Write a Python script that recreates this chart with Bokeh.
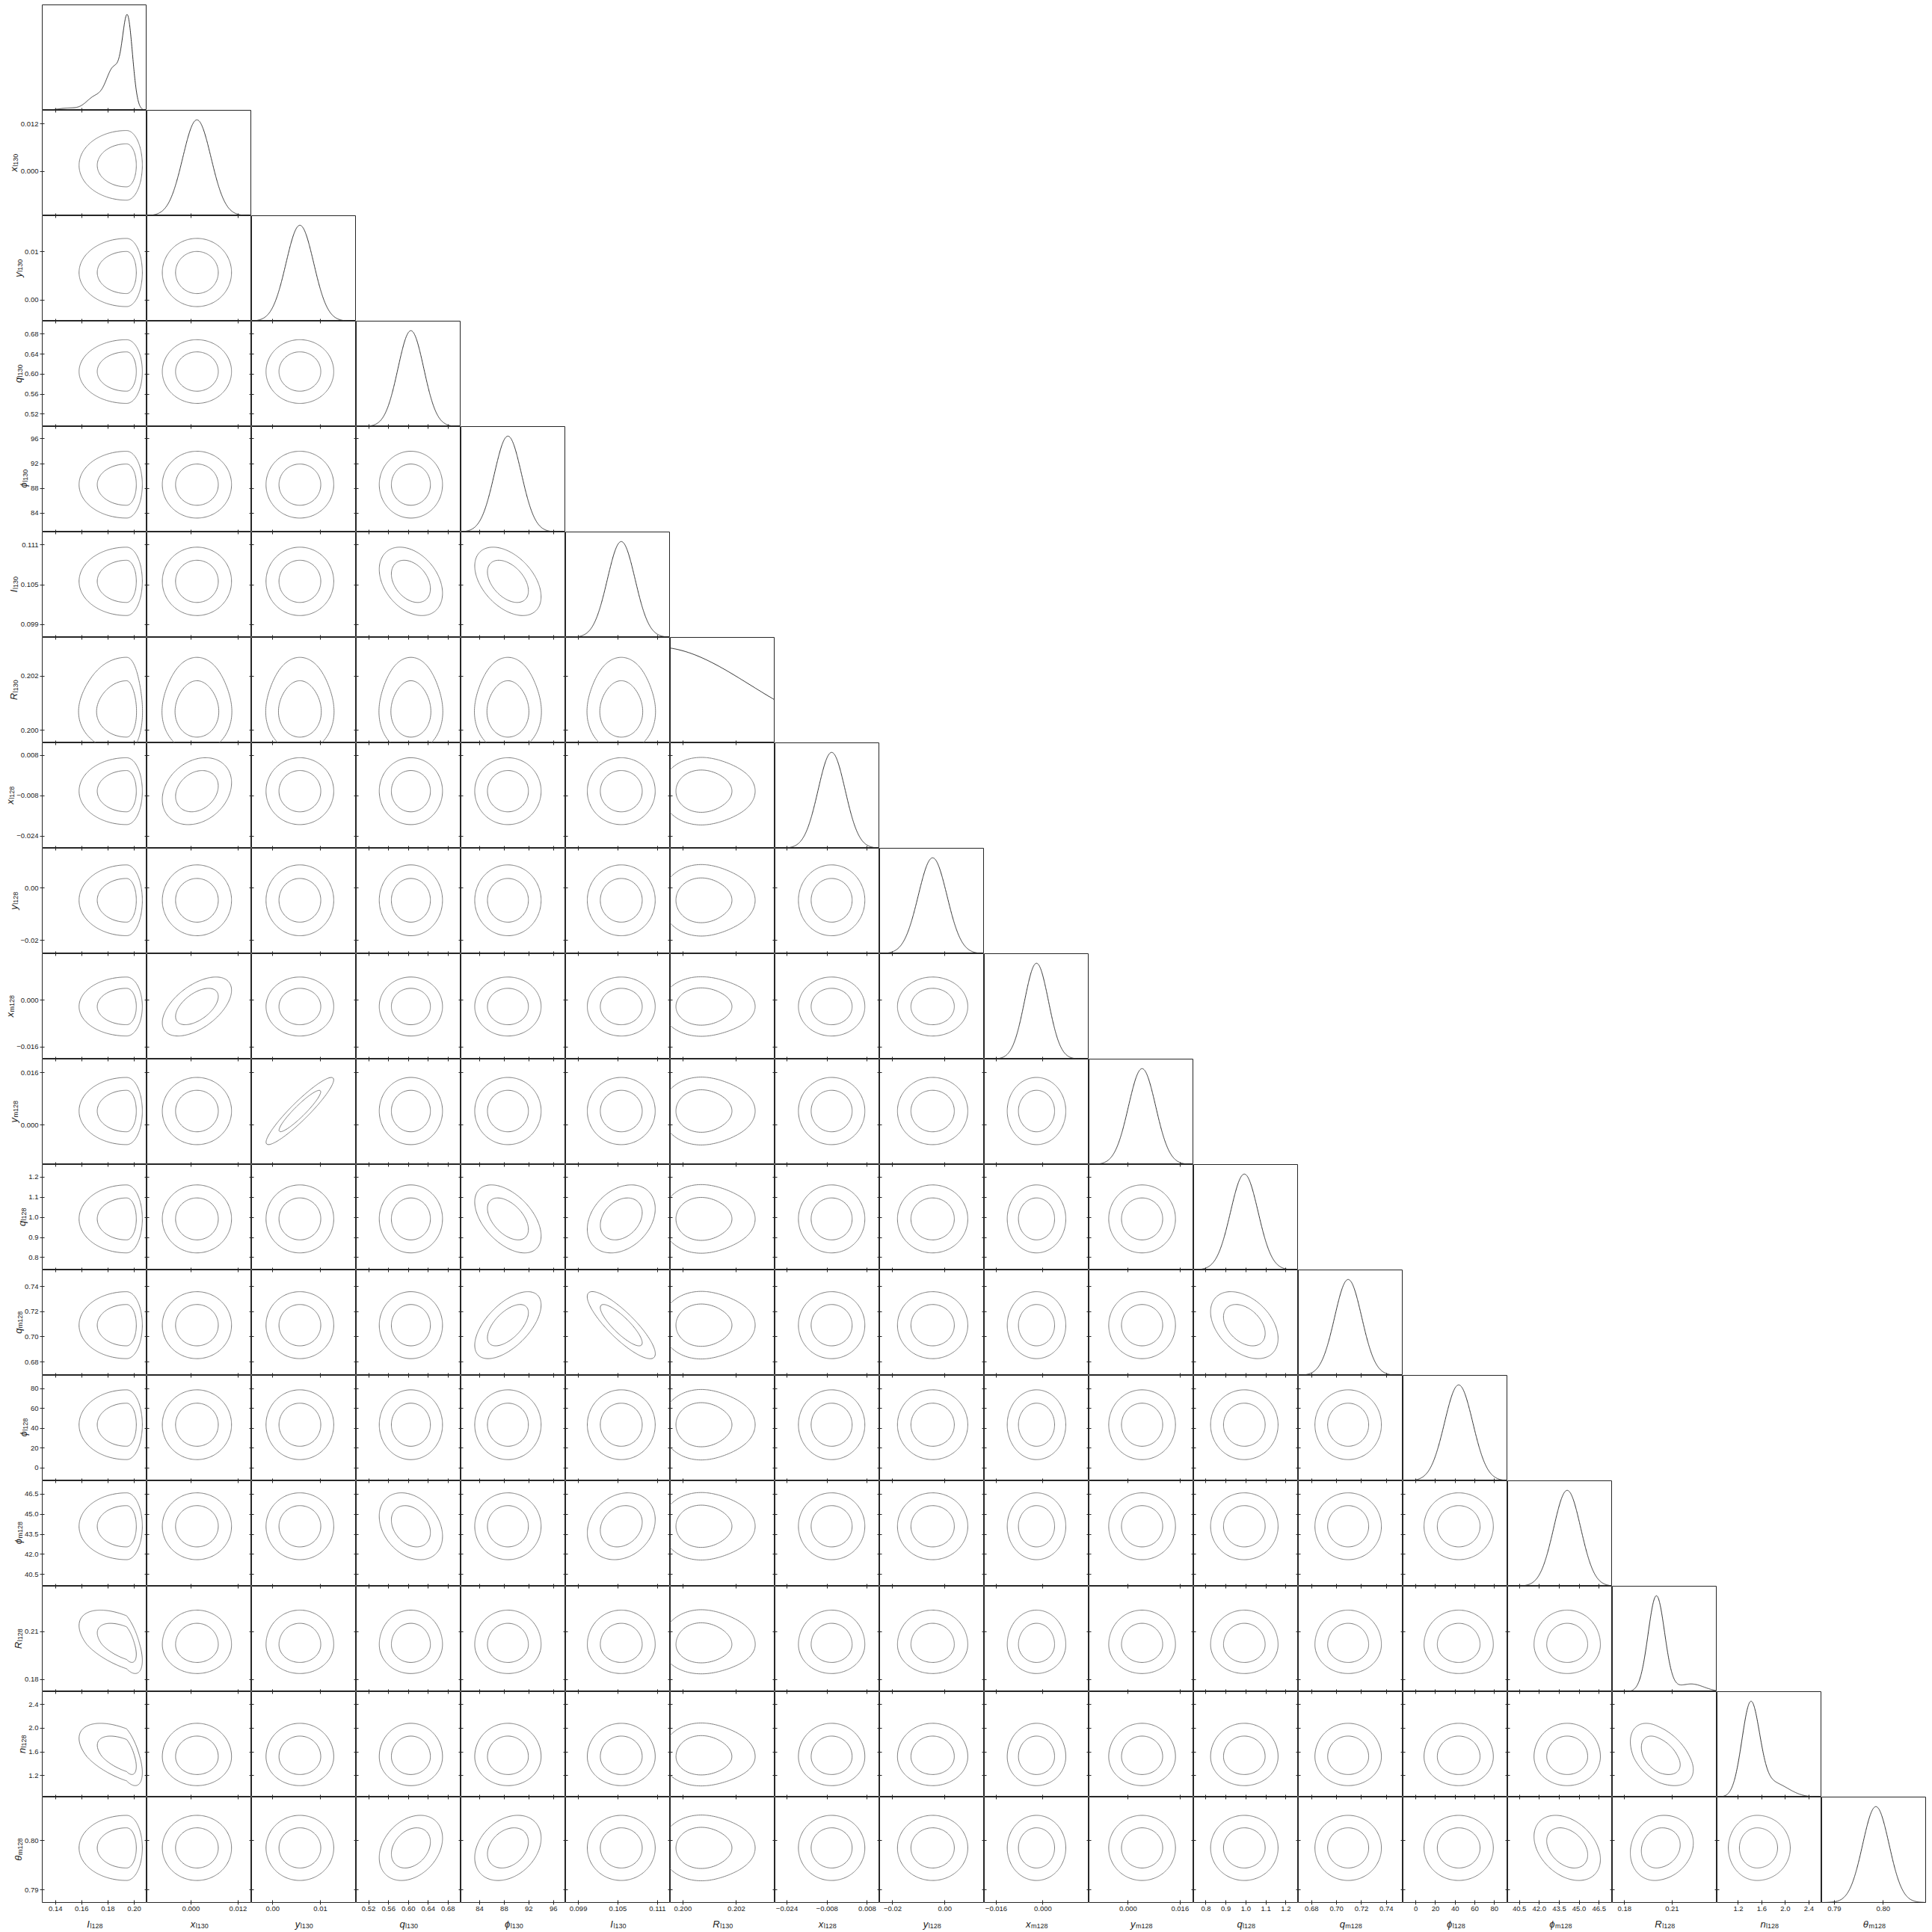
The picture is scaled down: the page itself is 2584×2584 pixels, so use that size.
import numpy as np
from bokeh.plotting import figure
from bokeh.layouts import row, column
from bokeh.models import FixedTicker, Range1d, LinearAxis, Spacer
from bokeh.core.properties import value
from bokeh.embed import file_html
from bokeh.resources import INLINE

# ---------------- data ----------------
symbols = ["I", "x", "y", "q", "ϕ", "I", "R", "x", "y", "x", "y", "q", "q", "ϕ", "ϕ", "R", "n", "θ"]
subscripts = ["l128", "l130", "l130", "l130", "l130", "l130", "l130", "l128", "l128",
              "m128", "m128", "l128", "m128", "l128", "m128", "l128", "l128", "m128"]

range_lo = [0.1299, -0.01124, -0.00443, 0.4950, 80.97, 0.09707, 0.19953, -0.02877, -0.02500,
            -0.02010, -0.01207, 0.7383, 0.66928, -13.06, 39.62, 0.17236, 0.8375, 0.78742]
range_hi = [0.2097, 0.01543, 0.01753, 0.7058, 97.97, 0.11293, 0.20344, 0.01292, 0.01511,
            0.01580, 0.02020, 1.2625, 0.75335, 93.5, 47.50, 0.2383, 2.6185, 0.80883]

tick_values = [
    [0.14, 0.16, 0.18, 0.20], [0.0, 0.012], [0.0, 0.01], [0.52, 0.56, 0.60, 0.64, 0.68],
    [84, 88, 92, 96], [0.099, 0.105, 0.111], [0.200, 0.202], [-0.024, -0.008, 0.008],
    [-0.02, 0.0], [-0.016, 0.0], [0.0, 0.016], [0.8, 0.9, 1.0, 1.1, 1.2],
    [0.68, 0.70, 0.72, 0.74], [0, 20, 40, 60, 80], [40.5, 42.0, 43.5, 45.0, 46.5],
    [0.18, 0.21], [1.2, 1.6, 2.0, 2.4], [0.79, 0.80]]
tick_labels = [
    ["0.14", "0.16", "0.18", "0.20"], ["0.000", "0.012"], ["0.00", "0.01"],
    ["0.52", "0.56", "0.60", "0.64", "0.68"], ["84", "88", "92", "96"],
    ["0.099", "0.105", "0.111"], ["0.200", "0.202"], ["\u22120.024", "\u22120.008", "0.008"],
    ["\u22120.02", "0.00"], ["\u22120.016", "0.000"], ["0.000", "0.016"],
    ["0.8", "0.9", "1.0", "1.1", "1.2"], ["0.68", "0.70", "0.72", "0.74"],
    ["0", "20", "40", "60", "80"], ["40.5", "42.0", "43.5", "45.0", "46.5"],
    ["0.18", "0.21"], ["1.2", "1.6", "2.0", "2.4"], ["0.79", "0.80"]]

# posterior shape of each parameter in the 2-d panels:
# (peak height, centre, width below centre, width above centre) per component
components = [
    [(1.0, 0.1942, 0.0148, 0.0049)],
    [(1.0, 0.0015, 0.0036, 0.0036)],
    [(1.0, 0.0057, 0.0029, 0.0029)],
    [(1.0, 0.605, 0.026, 0.026)],
    [(1.0, 88.6, 2.2, 2.2)],
    [(1.0, 0.1055, 0.0021, 0.0021)],
    [(1.0, 0.2006, 0.00058, 0.00058), (0.30, 0.2014, 0.0007, 0.0007)],
    [(1.0, -0.0062, 0.0054, 0.0054)],
    [(1.0, -0.0047, 0.0055, 0.0055)],
    [(1.0, -0.0022, 0.0041, 0.0041)],
    [(1.0, 0.0043, 0.0042, 0.0042)],
    [(1.0, 0.992, 0.069, 0.069)],
    [(1.0, 0.7093, 0.0109, 0.0109)],
    [(1.0, 43.6, 14.4, 14.4)],
    [(1.0, 44.1, 1.02, 1.02)],
    [(1.0, 0.2018, 0.0074, 0.0088)],
    [(1.0, 1.52, 0.20, 0.23)],
    [(1.0, 0.7985, 0.0027, 0.0027)],
]
# 1-d marginal curves on the diagonal where they differ from the above
diag_components = {
    0: [(0.80, 0.1950, 0.0038, 0.0038), (0.38, 0.1845, 0.0058, 0.0058),
        (0.12, 0.170, 0.0065, 0.0065), (0.02, 0.150, 0.008, 0.008)],
    6: [(1.0, 0.1990, 0.0035, 0.0035)],
    15: [(1.0, 0.2001, 0.0052, 0.0052), (0.08, 0.222, 0.008, 0.008)],
    16: [(1.0, 1.41, 0.15, 0.15), (0.15, 1.80, 0.25, 0.25)],
}

# correlation between (row parameter, column parameter)
correlations = {
    (9, 1): 0.55, (10, 2): 0.93, (7, 1): 0.25, (5, 3): -0.35, (5, 4): -0.45,
    (11, 4): -0.5, (11, 5): 0.3, (12, 4): 0.6, (12, 5): -0.85, (12, 11): -0.4,
    (14, 3): -0.3, (14, 5): 0.2, (15, 0): -0.55, (16, 0): -0.55, (16, 15): -0.45,
    (17, 3): 0.3, (17, 4): 0.3, (17, 14): -0.35, (17, 15): 0.15,
}
contour_probs = [0.95, 0.68]

# ---------------- styling ----------------
FONT = "Liberation Sans"
TICK_PX = 9.5
N = len(symbols)
FW, FH = 140, 141
LEFT_TOTAL, TOP_B, TICK_B, NAME_H, TICK_LEN = 56, 6, 17, 23, 3
STRIP_W = LEFT_TOTAL - TICK_LEN
FRAME = "#262626"
CONTOUR = "#7c7c7c"
CURVE = "#333333"
TEXT = "#222222"

CHAR_W = {".": 0.278, "\u2212": 0.584, "I": 0.30, "x": 0.50, "y": 0.50, "q": 0.556,
          "ϕ": 0.66, "R": 0.72, "n": 0.556, "θ": 0.56, "l": 0.222, "m": 0.833}


def text_w(s, px):
    return px * sum(CHAR_W.get(ch, 0.556) for ch in s)


def mix(comps):
    a = np.array([c[0] for c in comps], float)
    mu = np.array([c[1] for c in comps], float)
    sl = np.array([c[2] for c in comps], float)
    sr = np.array([c[3] for c in comps], float)
    w = a * (sl + sr) / 2
    return w / w.sum(), mu, sl, sr


def extent(comps, lo, hi):
    w, mu, sl, sr = mix(comps)
    return min(lo, (mu - 5 * sl).min()), max(hi, (mu + 5 * sr).max())


def zscore(x, m, sl, sr):
    return np.where(x < m, (x - m) / sl, (x - m) / sr)


def dens1(x, comps):
    w, mu, sl, sr = mix(comps)
    out = np.zeros_like(x)
    for wk, mk, lk, rk in zip(w, mu, sl, sr):
        out += wk / (0.5 * (lk + rk)) * np.exp(-0.5 * zscore(x, mk, lk, rk) ** 2)
    return out


def dens2(X, Y, cx, cy, rho):
    wx, mx, lx, rx = mix(cx)
    wy, my, ly, ry = mix(cy)
    Z = np.zeros_like(X)
    k = 1.0 - rho * rho
    for wa, ma, la, ra in zip(wx, mx, lx, rx):
        zx = zscore(X, ma, la, ra)
        for wb, mb, lb, rb in zip(wy, my, ly, ry):
            zy = zscore(Y, mb, lb, rb)
            norm = 0.25 * (la + ra) * (lb + rb) * np.sqrt(k)
            Z += wa * wb / norm * np.exp(-0.5 / k * (zx * zx - 2 * rho * zx * zy + zy * zy))
    return Z


def levels_for(Z, probs):
    z = np.sort(Z.ravel())[::-1]
    cs = np.cumsum(z)
    cs /= cs[-1]
    return sorted(float(z[min(np.searchsorted(cs, pr), len(z) - 1)]) for pr in probs)


def style_axis(ax, idx, tick_in, tick_out, show):
    ax.ticker = FixedTicker(ticks=list(tick_values[idx]), minor_ticks=[])
    ax.major_label_overrides = {float(t): s for t, s in zip(tick_values[idx], tick_labels[idx])}
    ax.major_tick_in = tick_in
    ax.major_tick_out = tick_out
    ax.minor_tick_in = 0
    ax.minor_tick_out = 0
    ax.major_tick_line_color = FRAME
    ax.major_tick_line_width = 1
    ax.axis_line_color = None
    ax.axis_label = None
    if show:
        ax.major_label_text_font = FONT
        ax.major_label_text_font_size = f"{TICK_PX}px"
        ax.major_label_text_color = TEXT
        ax.major_label_standoff = 2
    else:
        ax.major_label_text_font_size = "0px"
        ax.major_label_text_color = None
        ax.major_label_standoff = 0


def blank(w, h, yr=None, bottom=0):
    f = figure(frame_width=w, frame_height=h, output_backend="svg", toolbar_location=None, title=None,
               x_range=Range1d(0, w), y_range=yr if yr is not None else Range1d(0, h),
               min_border=0, min_border_left=0, min_border_right=0, min_border_top=0,
               min_border_bottom=bottom)
    f.axis.visible = False
    f.grid.visible = False
    f.outline_line_color = None
    f.background_fill_color = "white"
    f.border_fill_color = "white"
    return f


def write_name(f, idx, centre, along_scale, horizontal, main_base, sub_base):
    main_w = text_w(symbols[idx], 13)
    sub_w = text_w(subscripts[idx], 9)
    join = centre + (main_w - (main_w + sub_w) / 2) * along_scale
    gap = 0.5 * along_scale
    ang = 0.0 if horizontal else np.pi / 2
    mx, my = (join, main_base) if horizontal else (main_base, join)
    sx, sy = (join + gap, sub_base) if horizontal else (sub_base, join + gap)
    f.text(x=[mx], y=[my], text=[symbols[idx]], angle=ang, text_font=value(FONT),
           text_font_size=value("13px"), text_font_style="italic", text_color=TEXT,
           text_align="right", text_baseline="alphabetic")
    f.text(x=[sx], y=[sy], text=[subscripts[idx]], angle=ang, text_font=value(FONT),
           text_font_size=value("9px"), text_color=TEXT,
           text_align="left", text_baseline="alphabetic")


layout_rows = []
for r in range(N):
    children = []
    last = r == N - 1
    if r > 0:
        # strip left of the row: tick labels of the row parameter and its name
        lf = blank(STRIP_W, FH, Range1d(range_lo[r], range_hi[r]), TICK_B if last else 0)
        lf.text(x=[STRIP_W - 2] * len(tick_values[r]), y=list(tick_values[r]), text=list(tick_labels[r]),
                text_font=value(FONT), text_font_size=value(f"{TICK_PX}px"), text_color=TEXT,
                text_align="right", text_baseline="middle")
        wmax = max(text_w(t, TICK_PX) for t in tick_labels[r])
        main_base = LEFT_TOTAL - (wmax + 14)
        per_px = (range_hi[r] - range_lo[r]) / FH
        write_name(lf, r, 0.5 * (range_lo[r] + range_hi[r]), per_px, False, main_base, main_base + 2.5)
        children.append(lf)
        left_b = TICK_LEN
    else:
        left_b = LEFT_TOTAL
    for c in range(r + 1):
        diag = r == c
        p = figure(frame_width=FW, frame_height=FH, output_backend="svg", toolbar_location=None,
                   title=None,
                   x_range=Range1d(range_lo[c], range_hi[c]),
                   y_range=Range1d(0, 1.1) if diag else Range1d(range_lo[r], range_hi[r]),
                   min_border=0, min_border_left=left_b if c == 0 else 0,
                   min_border_bottom=TICK_B if last else 0,
                   min_border_right=0, min_border_top=TOP_B if r == 0 else 0)
        p.grid.visible = False
        p.outline_line_color = FRAME
        p.outline_line_width = 1
        p.background_fill_color = "white"
        p.border_fill_color = "white"

        style_axis(p.xaxis[0], c, 3, TICK_LEN if last else 0, last)
        if diag:
            p.yaxis.visible = False
        else:
            style_axis(p.yaxis[0], r, 3, TICK_LEN if c == 0 else 0, False)
            top = LinearAxis()
            style_axis(top, c, 3, 0, False)
            p.add_layout(top, "above")
            if c + 1 < r:
                right = LinearAxis()
                style_axis(right, r, 3, 0, False)
                p.add_layout(right, "right")

        if diag:
            comps = diag_components.get(c, components[c])
            a, b = extent(comps, range_lo[c], range_hi[c])
            xs = np.linspace(a, b, 600)
            f = dens1(xs, comps)
            p.line(xs, f / f.max(), line_color=CURVE, line_width=1)
        else:
            ax0, ax1 = extent(components[c], range_lo[c], range_hi[c])
            ay0, ay1 = extent(components[r], range_lo[r], range_hi[r])
            gx = np.linspace(ax0, ax1, 170)
            gy = np.linspace(ay0, ay1, 170)
            X, Y = np.meshgrid(gx, gy)
            Z = dens2(X, Y, components[c], components[r], correlations.get((r, c), 0.0))
            p.contour(gx, gy, Z, levels_for(Z, contour_probs), line_color=CONTOUR, line_width=1)
        children.append(p)
    layout_rows.append(row(children, spacing=0))

# strip of column names under the bottom row
names = [Spacer(width=LEFT_TOTAL, height=NAME_H)]
for c in range(N):
    nf = blank(FW, NAME_H)
    write_name(nf, c, FW / 2, 1.0, True, NAME_H - 12.3, NAME_H - 14.0)
    names.append(nf)
layout_rows.append(row(names, spacing=0))

page = column(layout_rows, spacing=0)
open("out.html", "w").write(file_html(page, INLINE))
